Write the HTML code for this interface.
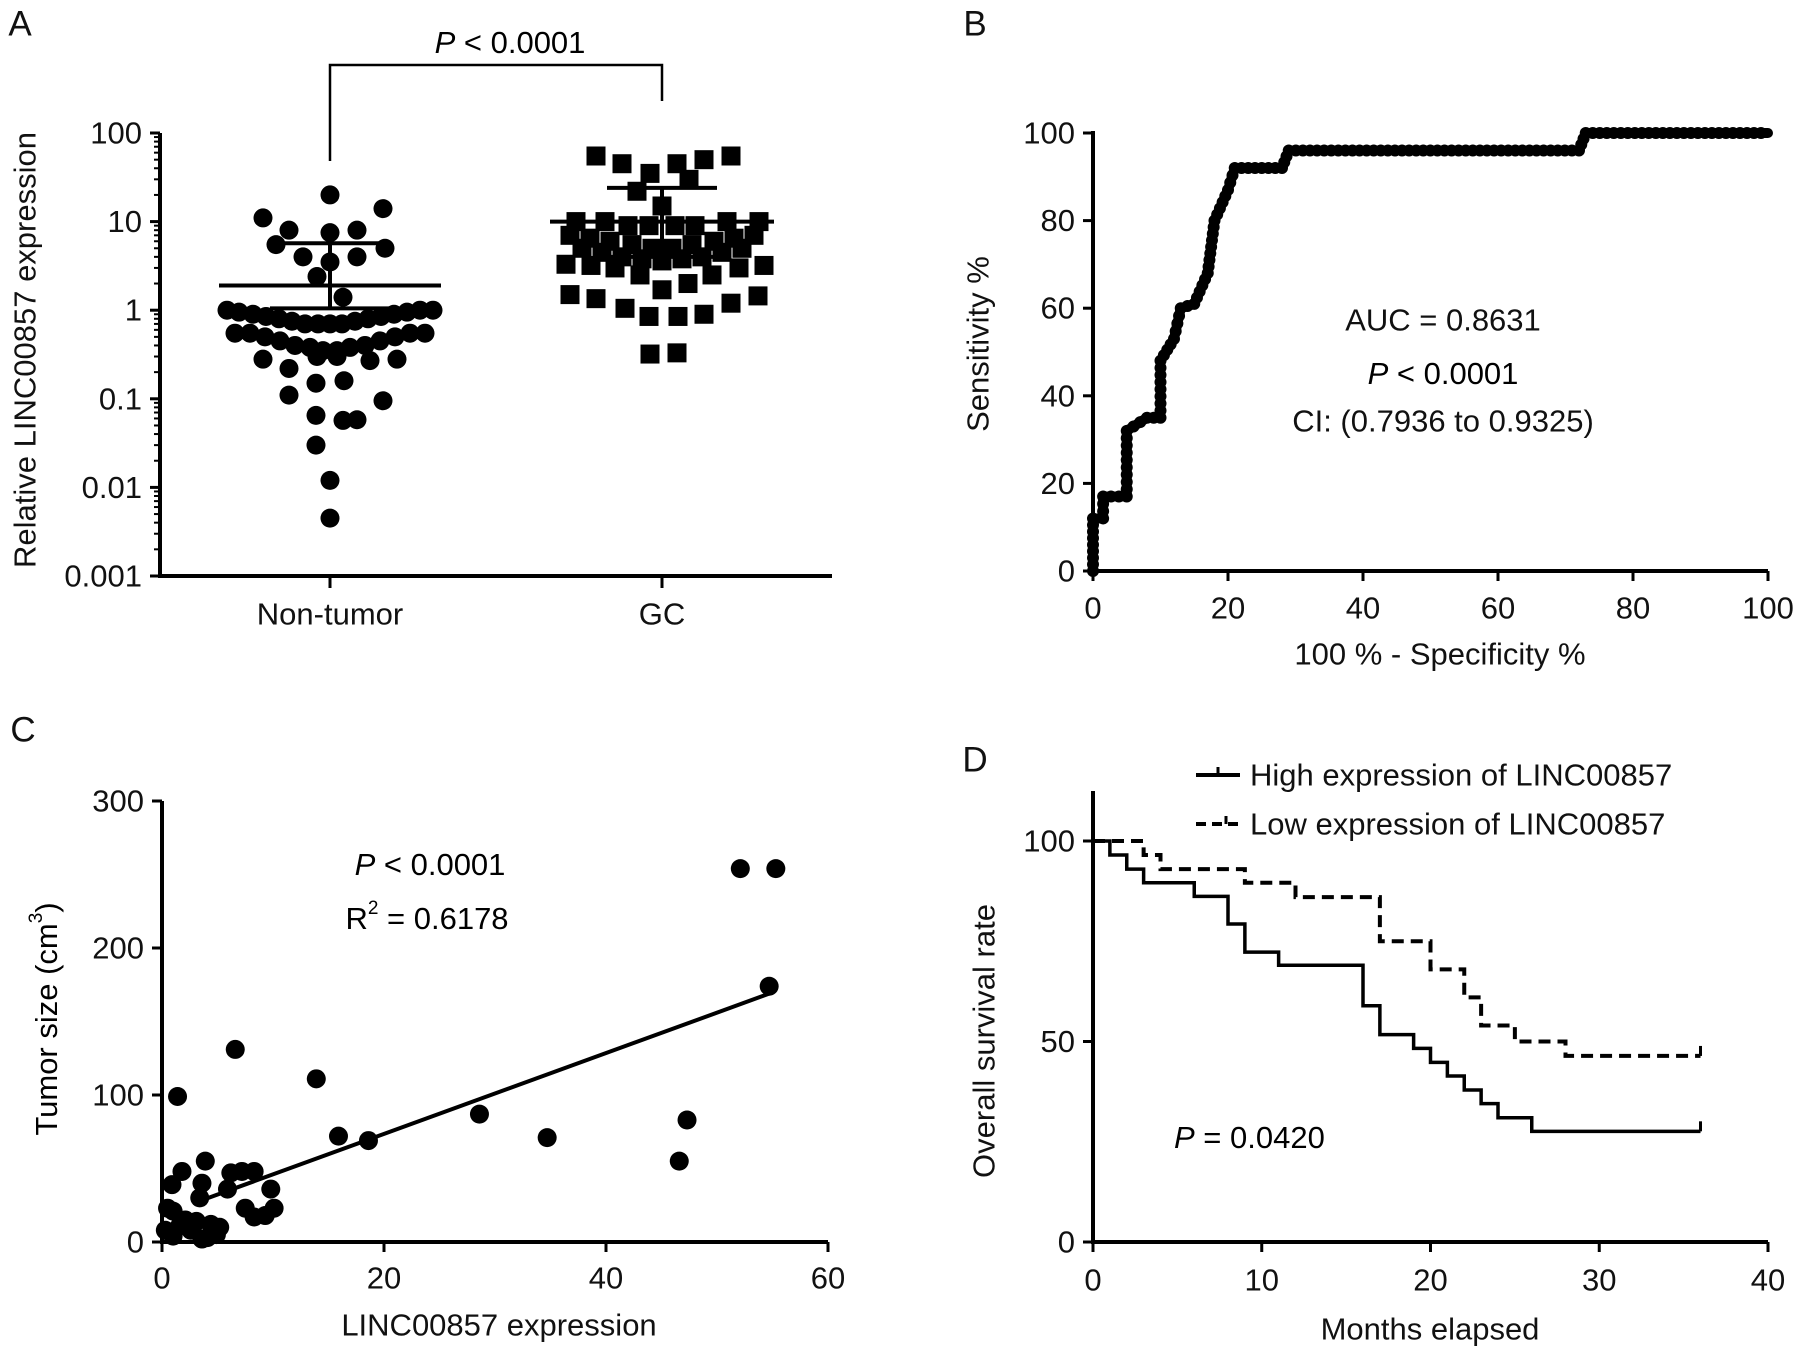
<!DOCTYPE html>
<html><head><meta charset="utf-8"><style>
html,body{margin:0;padding:0;background:#fff;}
svg{display:block;font-family:"Liberation Sans",Arial,sans-serif;}
</style></head><body>
<svg id="fig" width="1795" height="1356" viewBox="0 0 1795 1356" xmlns="http://www.w3.org/2000/svg"></svg>
<script>
// ---------- Panel A data ----------
const aNonVals=[20,11,14,8,7.5,8,5.5,4,5,4,3.5,2.4,1.4,
1.0,0.95,0.9,0.85,0.8,0.75,0.7,0.7,0.7,0.7,0.75,0.8,0.85,0.9,0.95,1.0,1.0,
0.55,0.55,0.5,0.45,0.4,0.38,0.35,0.35,0.38,0.4,0.45,0.5,0.55,0.55,
0.28,0.22,0.3,0.3,0.27,0.28,0.15,0.16,0.11,0.095,0.065,0.057,0.058,0.03,0.012,0.0045];
const aNonJit=[0,-67,53,-41,0,27,-54,-27,55,27,0,-13,13,
-103,-91,-77,-64,-51,-38,-25,-12,0,12,25,38,51,64,77,90,103,
-95,-80,-65,-50,-35,-20,-7,7,20,35,50,65,80,95,
-67,-41,-13,7,40,67,-14,14,-41,53,-14,13,27,-14,0,0];
const aGcVals=[55,45,35,45,50,55,30,22,15,
10,10,9,9,9,9,10,10,
7,6.5,6,5.5,5,5,5.5,6,6.5,7,
5,4.5,4,3.8,3.6,3.8,4,4.5,5,
3.3,3.2,3,2.5,2.0,2.5,3.0,3.2,1.7,
1.5,1.35,1.05,0.85,0.85,0.9,1.2,1.45,0.32,0.33];
const aGcJit=[-66,-40,-12,15,42,69,27,-25,0,
-86,-57,-34,-13,13,33,65,97,
-92,-72,-52,-30,-10,10,30,52,72,92,
-80,-60,-40,-20,0,20,40,60,80,
-96,-71,-47,-22,26,50,77,102,0,
-92,-66,-37,-13,16,42,69,96,-12,15];
const aNonStats=[1.9,5.7,1.05];
const aGcStats=[10,24,4];
const aTicks=[100,10,1,0.1,0.01,0.001];
const aTickLabels=["100","10","1","0.1","0.01","0.001"];
// ---------- Panel B data ----------
const rocX=[0,0,1.5,1.5,5,5,6,8,10,10,12,13,15,17,18,20,21,28,29,72,73,100];
const rocY=[0,12,12,17,17,32,33,35,35,48,53,60,61,68,80,87,92,92,96,96,100,100];
const bTicks=[0,20,40,60,80,100];
// ---------- Panel C data ----------
const cX=[52.1,55.3,54.7,6.6,1.4,13.9,15.9,18.6,28.6,34.7,47.3,46.6,
3.9,1.8,0.9,0.5,1.0,3.6,3.4,6.2,8.3,7.2,5.9,7.5,8.3,9.3,10.1,9.8,1.6,2.6,4.7,1.0,3.6,4.9,2.1,3.1,4.4,5.2,0.3,4.1];
const cY=[254,254,174,131,99,111,72,69,87,71,83,55,
55,48,39,23,21,40,30,47,48,48,36,23,17,18,23,36,11,8,8,4,2,5,15,14,12,10,8,3];
const cFit=[2.75,18.5];
const cFitRange=[3.9,54.7];
const cXTicks=[0,20,40,60];
const cYTicks=[0,100,200,300];
// ---------- Panel D data ----------
const highT=[0,1,2,3,6,8,9,11,16,17,19,20,21,22,23,24,26,36];
const highS=[100,96.5,93,89.6,86.2,79.3,72.3,69,58.9,51.7,48.3,44.8,41.4,37.9,34.5,31,27.6,27.6];
const lowT=[0,3,4,9,12,17,20,22,23,25,28,36];
const lowS=[100,96.5,93,89.6,86,75,68,61,54,50,46.4,46.4];
const dXTicks=[0,10,20,30,40];
const dYTicks=[0,50,100];

const NS="http://www.w3.org/2000/svg";
const svg=document.getElementById('fig');
function el(tag,attrs,parent,text){const e=document.createElementNS(NS,tag);for(const k in attrs)e.setAttribute(k,attrs[k]);if(text!==undefined)e.textContent=text;(parent||svg).appendChild(e);return e;}
function group(name){const g=el('g',{});


return g;}
const FS=31, SW=4;
function txt(g,x,y,s,anchor,size,name,extra){const t=el('text',Object.assign({x:x,y:y,'text-anchor':anchor||'middle','font-size':size||FS,'dominant-baseline':'central',fill:'#111'},extra||{}),g,s);


return t;}
function line(g,x1,y1,x2,y2,w,extra){return el('line',Object.assign({x1:x1,y1:y1,x2:x2,y2:y2,stroke:'#000','stroke-width':w||SW},extra||{}),g);}

// ===== Panel A =====
(function(){
const g=group('panel-a');
const X0=160,X1=832,YT=133,YB=576;
const ly=v=>YT+(2-Math.log10(v))*(YB-YT)/5;
const cx=[330,662];
txt(g,20,24,'A','middle',35,'panel-a-label');
line(g,X0,YT,X0,YB);line(g,X0-2,YB,X1,YB);
aTicks.forEach((v,i)=>{const y=ly(v);line(g,X0-10,y,X0,y,3);txt(g,X0-18,y,aTickLabels[i],'end',FS,'y-tick-label');
 if(i<5)for(let k=2;k<10;k++){const yy=ly(v/10*k);line(g,X0-6,yy,X0,yy,2);}});
cx.forEach(x=>line(g,x,YB,x,YB+12,3));
txt(g,cx[0],614,'Non-tumor','middle',FS,'x-category-non-tumor');
txt(g,cx[1],614,'GC','middle',FS,'x-category-gc');
txt(g,25,350,'Relative LINC00857 expression','middle',FS,'y-axis-title',{transform:'rotate(-90 25 350)'});
el('polyline',{points:`${cx[0]},161 ${cx[0]},65 ${cx[1]},65 ${cx[1]},101`,fill:'none',stroke:'#000','stroke-width':2.5},g);
const pt=el('text',{x:510,y:42,'text-anchor':'middle','font-size':FS,'dominant-baseline':'central'},g);


el('tspan',{'font-style':'italic'},pt,'P');el('tspan',{},pt,' < 0.0001');
aNonVals.forEach((v,i)=>{const c=el('circle',{cx:cx[0]+aNonJit[i],cy:ly(v),r:9.5,fill:'#000'},g);

});
aGcVals.forEach((v,i)=>{const s=19;const r=el('rect',{x:cx[1]+aGcJit[i]-s/2,y:ly(v)-s/2,width:s,height:s,fill:'#000'},g);

});
[[aNonStats,0,111,60],[aGcStats,1,112,55]].forEach(([st,i,mw,sw])=>{const x=cx[i];
 line(g,x-mw,ly(st[0]),x+mw,ly(st[0]),4);line(g,x,ly(st[1]),x,ly(st[2]),4);
 line(g,x-sw,ly(st[1]),x+sw,ly(st[1]),4);line(g,x-sw,ly(st[2]),x+sw,ly(st[2]),4);});
})();

// ===== Panel B =====
(function(){
const g=group('panel-b');
const X0=1093,X1=1768,YT=133,YB=571;
const sx=v=>X0+v*(X1-X0)/100, sy=v=>YB-v*(YB-YT)/100;
txt(g,975,24,'B','middle',35,'panel-b-label');
line(g,X0,YT-2,X0,YB);line(g,X0-2,YB,X1,YB);
bTicks.forEach(v=>{line(g,X0-10,sy(v),X0,sy(v),3);txt(g,X0-18,sy(v),String(v),'end',FS,'y-tick-label');
 line(g,sx(v),YB,sx(v),YB+10,3);txt(g,sx(v),608,String(v),'middle',FS,'x-tick-label');});
txt(g,1440,654,'100 % - Specificity %','middle',FS,'x-axis-title');
txt(g,978,344,'Sensitivity %','middle',FS,'y-axis-title',{transform:'rotate(-90 978 344)'});
txt(g,1443,320,'AUC = 0.8631','middle',FS,'auc-text');
const pt=el('text',{x:1443,y:373,'text-anchor':'middle','font-size':FS,'dominant-baseline':'central'},g);


el('tspan',{'font-style':'italic'},pt,'P');el('tspan',{},pt,' < 0.0001');
txt(g,1443,421,'CI: (0.7936 to 0.9325)','middle',FS,'ci-text');
const pts=rocX.map((x,i)=>sx(x)+','+sy(rocY[i])).join(' ');
const pl=el('polyline',{points:pts,fill:'none',stroke:'#000','stroke-width':10,'stroke-linejoin':'round','stroke-linecap':'round'},g);


for(let i=0;i<rocX.length-1;i++){const x0=sx(rocX[i]),y0=sy(rocY[i]),x1=sx(rocX[i+1]),y1=sy(rocY[i+1]);
 const d=Math.hypot(x1-x0,y1-y0),n=Math.max(1,Math.round(d/7));
 for(let k=0;k<n;k++){const c=el('circle',{cx:x0+(x1-x0)*k/n,cy:y0+(y1-y0)*k/n,r:6,fill:'#000'},g);
 
 }}
})();

// ===== Panel C =====
(function(){
const g=group('panel-c');
const X0=162,X1=828,YT=801,YB=1242;
const sx=v=>X0+v*(X1-X0)/60, sy=v=>YB-v*(YB-YT)/300;
txt(g,23,730,'C','middle',35,'panel-c-label');
line(g,X0,YT,X0,YB);line(g,X0-2,YB,X1,YB);
cYTicks.forEach(v=>{line(g,X0-10,sy(v),X0,sy(v),3);txt(g,X0-18,sy(v),String(v),'end',FS,'y-tick-label');});
cXTicks.forEach(v=>{line(g,sx(v),YB,sx(v),YB+10,3);txt(g,sx(v),1278,String(v),'middle',FS,'x-tick-label');});
txt(g,499,1325,'LINC00857 expression','middle',FS,'x-axis-title');
const yt=el('text',{x:46,y:1019,'text-anchor':'middle','font-size':FS,'dominant-baseline':'central',transform:'rotate(-90 46 1019)'},g);


el('tspan',{},yt,'Tumor size (cm');el('tspan',{'font-size':19,dy:-10},yt,'3');el('tspan',{dy:10},yt,')');
const pt=el('text',{x:430,y:864,'text-anchor':'middle','font-size':FS,'dominant-baseline':'central'},g);


el('tspan',{'font-style':'italic'},pt,'P');el('tspan',{},pt,' < 0.0001');
const rt=el('text',{x:427,y:918,'text-anchor':'middle','font-size':FS,'dominant-baseline':'central'},g);


el('tspan',{},rt,'R');el('tspan',{'font-size':19,dy:-10},rt,'2');el('tspan',{dy:10},rt,' = 0.6178');
const fl=line(g,sx(cFitRange[0]),sy(cFit[1]+cFit[0]*cFitRange[0]),sx(cFitRange[1]),sy(cFit[1]+cFit[0]*cFitRange[1]),4);


cX.forEach((x,i)=>{const c=el('circle',{cx:sx(x),cy:sy(cY[i]),r:9.5,fill:'#000'},g);

});
})();

// ===== Panel D =====
(function(){
const g=group('panel-d');
const X0=1093,X1=1768,YA=791,YB=1242,Y100=841;
const sx=v=>X0+v*(X1-X0)/40, sy=v=>YB-v*(YB-Y100)/100;
txt(g,975,760,'D','middle',35,'panel-d-label');
line(g,X0,YA,X0,YB);line(g,X0-2,YB,X1,YB);
dYTicks.forEach(v=>{line(g,X0-10,sy(v),X0,sy(v),3);txt(g,X0-18,sy(v),String(v),'end',FS,'y-tick-label');});
dXTicks.forEach(v=>{line(g,sx(v),YB,sx(v),YB+10,3);txt(g,sx(v),1280,String(v),'middle',FS,'x-tick-label');});
txt(g,1430,1329,'Months elapsed','middle',FS,'x-axis-title');
txt(g,984,1041,'Overall survival rate','middle',FS,'y-axis-title',{transform:'rotate(-90 984 1041)'});
const pt=el('text',{x:1174,y:1137,'text-anchor':'start','font-size':FS,'dominant-baseline':'central'},g);


el('tspan',{'font-style':'italic'},pt,'P');el('tspan',{},pt,' = 0.0420');
function steps(T,S){let p=[];for(let i=0;i<T.length;i++){if(i>0)p.push(sx(T[i])+','+sy(S[i-1]));p.push(sx(T[i])+','+sy(S[i]));}return p.join(' ');}
const h=el('polyline',{points:steps(highT,highS),fill:'none',stroke:'#000','stroke-width':3.5},g);


const l=el('polyline',{points:steps(lowT,lowS),fill:'none',stroke:'#000','stroke-width':4,'stroke-dasharray':'12 7'},g);


line(g,sx(36),sy(highS[highS.length-1]),sx(36),sy(highS[highS.length-1])-10,3);
line(g,sx(36),sy(lowS[lowS.length-1]),sx(36),sy(lowS[lowS.length-1])-10,3);
const lg1=group('legend-entry-high');g.appendChild(lg1);
line(lg1,1196,775,1240,775,4);line(lg1,1218,775,1218,767,3);
txt(lg1,1250,775,'High expression of LINC00857','start',FS,'legend-label-high');
const lg2=group('legend-entry-low');g.appendChild(lg2);
line(lg2,1196,824,1240,824,4,{'stroke-dasharray':'10 6'});line(lg2,1226,824,1226,816,3);
txt(lg2,1250,824,'Low expression of LINC00857','start',FS,'legend-label-low');
})();
</script>
</body></html>
